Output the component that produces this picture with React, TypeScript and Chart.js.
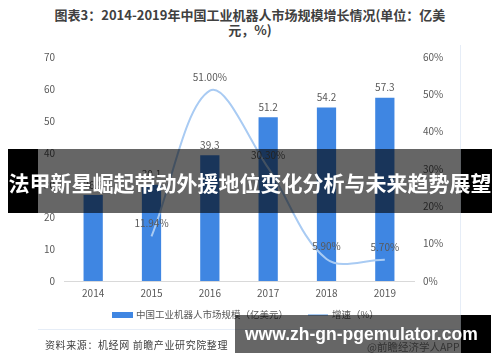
import React, { useEffect, useRef } from "react";
import { Chart, registerables } from "chart.js";

Chart.register(...registerables);

const years = ["2014", "2015", "2016", "2017", "2018", "2019"];
const marketSize = [26.9, 30.1, 39.3, 51.2, 54.2, 57.3];
const growthRate = [null, 11.94, 51.0, 30.3, 5.9, 5.7];
const leftTicks = { min: 0, max: 70, step: 10 };
const rightTicks = { min: 0, max: 60, step: 10 };

const titleLine1 = "图表3：2014-2019年中国工业机器人市场规模增长情况(单位：亿美";
const titleLine2 = "元，%)";
const barLabel = "中国工业机器人市场规模（亿美元）";
const lineLabel = "增速（%）";
const sourceText = "资料来源：机经网 前瞻产业研究院整理";
const appText = "@前瞻经济学人APP";
const bannerText = "法甲新星崛起带动外援地位变化分析与未来趋势展望";
const urlText = "www.zh-gn-pgemulator.com";

const BAR_COLOR = "#3f86e2";
const LINE_COLOR = "#a9cbf3";
const TEXT_COLOR = "#595959";
const FONT = "'Noto Sans CJK SC', 'Noto Sans', sans-serif";

const valueLabels = {
  id: "valueLabels",
  afterDatasetsDraw(chart: any) {
    const ctx = chart.ctx;
    ctx.save();
    ctx.font = `10px ${FONT}`;
    ctx.fillStyle = TEXT_COLOR;
    ctx.textAlign = "center";
    ctx.textBaseline = "middle";
    chart.data.datasets.forEach((ds: any, i: number) => {
      const meta = chart.getDatasetMeta(i);
      meta.data.forEach((el: any, j: number) => {
        const v = ds.data[j];
        if (v == null) return;
        const { x, y } = el.getProps(["x", "y"], true);
        if (ds.type === "line") {
          ctx.fillText(v.toFixed(2) + "%", x, y - 13);
        } else {
          ctx.fillText(v.toFixed(1), x, y - 10);
        }
      });
    });
    ctx.restore();
  },
};

export default function App() {
  const ref = useRef<HTMLCanvasElement | null>(null);

  useEffect(() => {
    if (!ref.current) return;
    const chart = new Chart(ref.current, {
      data: {
        labels: years,
        datasets: [
          {
            type: "line",
            label: lineLabel,
            data: growthRate,
            yAxisID: "y1",
            borderColor: LINE_COLOR,
            borderWidth: 2,
            pointRadius: 0,
            tension: 0.35,
            fill: false,
            order: 0,
          } as any,
          {
            type: "bar",
            label: barLabel,
            data: marketSize,
            yAxisID: "y",
            backgroundColor: BAR_COLOR,
            categoryPercentage: 1,
            barPercentage: 0.33,
            order: 1,
          } as any,
        ],
      },
      options: {
        responsive: false,
        animation: false,
        devicePixelRatio: 1,
        layout: { padding: { left: 24, right: 41, top: 57, bottom: 61 } },
        plugins: {
          legend: { display: false },
          title: { display: false },
          tooltip: { enabled: false },
        },
        scales: {
          x: {
            grid: { display: false, drawTicks: false },
            border: { display: true, color: "#d9d9d9", width: 1 },
            ticks: { color: TEXT_COLOR, font: { size: 10, family: FONT }, padding: 6 },
            afterFit: (s: any) => {
              s.height = 20;
            },
          },
          y: {
            position: "left",
            min: leftTicks.min,
            max: leftTicks.max,
            grid: { display: false, drawTicks: false },
            border: { display: false },
            ticks: { stepSize: leftTicks.step, color: TEXT_COLOR, font: { size: 10, family: FONT }, padding: 9 },
            afterFit: (s: any) => {
              s.width = 40;
            },
          },
          y1: {
            position: "right",
            min: rightTicks.min,
            max: rightTicks.max,
            grid: { display: false, drawTicks: false },
            border: { display: false },
            ticks: {
              stepSize: rightTicks.step,
              color: TEXT_COLOR,
              font: { size: 10, family: FONT },
              padding: 9,
              callback: (v: any) => v + "%",
            },
            afterFit: (s: any) => {
              s.width = 45;
            },
          },
        },
      } as any,
      plugins: [valueLabels],
    });
    return () => chart.destroy();
  }, []);

  const abs = (style: React.CSSProperties): React.CSSProperties => ({ position: "absolute", ...style });

  return (
    <div style={abs({ left: 0, top: 0, width: 500, height: 362, background: "#fff", overflow: "hidden", fontFamily: FONT })}>
      <div
        style={abs({
          left: 0,
          top: 7,
          width: 500,
          textAlign: "center",
          fontSize: 13,
          lineHeight: "15px",
          fontWeight: 700,
          color: "#404040",
          whiteSpace: "nowrap",
        })}
      >
        {titleLine1}
        <br />
        {titleLine2}
      </div>
      <canvas ref={ref} width={500} height={362} style={abs({ left: 0, top: 0 })} />
      <div style={abs({ left: 460, top: 45, width: 1, height: 284, background: "#e6edf7" })} />
      <div style={abs({ left: 38, top: 329, width: 423, height: 1, background: "#e6edf7" })} />
      <div style={abs({ left: 112, top: 312, width: 21, height: 6, background: BAR_COLOR })} />
      <div style={abs({ left: 136, top: 307, fontSize: 9.5, lineHeight: "15px", color: TEXT_COLOR, whiteSpace: "nowrap" })}>
        {barLabel}
      </div>
      <div style={abs({ left: 308, top: 314, width: 20, height: 2, background: LINE_COLOR })} />
      <div style={abs({ left: 332, top: 307, fontSize: 9.5, lineHeight: "15px", color: TEXT_COLOR, whiteSpace: "nowrap" })}>
        {lineLabel}
      </div>
      <div
        style={abs({ left: 45, top: 337, fontSize: 10, letterSpacing: 0.6, lineHeight: "15px", color: "#404040", whiteSpace: "nowrap" })}
      >
        {sourceText}
      </div>
      <div style={abs({ left: 367, top: 339, fontSize: 10.5, lineHeight: "15px", color: "#808080", whiteSpace: "nowrap" })}>
        {appText}
      </div>

      <div style={abs({ left: 8, top: 149, width: 30, height: 64, background: "#000" })} />
      <div style={abs({ left: 38, top: 149, width: 423, height: 64, background: "rgba(0,0,0,0.6)" })} />
      <div style={abs({ left: 461, top: 149, width: 31, height: 64, background: "#000" })} />
      <div
        style={abs({
          left: 0,
          top: 149,
          width: 500,
          height: 66,
          lineHeight: "66px",
          textAlign: "center",
          color: "#fff",
          fontSize: 21,
          fontWeight: 700,
          whiteSpace: "nowrap",
        })}
      >
        {bannerText}
      </div>

      <div style={abs({ left: 235, top: 315, width: 226, height: 38, background: "rgba(0,0,0,0.6)" })} />
      <div style={abs({ left: 461, top: 315, width: 30, height: 38, background: "#000" })} />
      <div
        style={abs({
          left: 245,
          top: 315,
          height: 38,
          lineHeight: "38px",
          color: "#fff",
          fontSize: 17.5,
          fontWeight: 700,
          fontFamily: "'Liberation Sans', Arial, sans-serif",
          whiteSpace: "nowrap",
        })}
      >
        {urlText}
      </div>
    </div>
  );
}
